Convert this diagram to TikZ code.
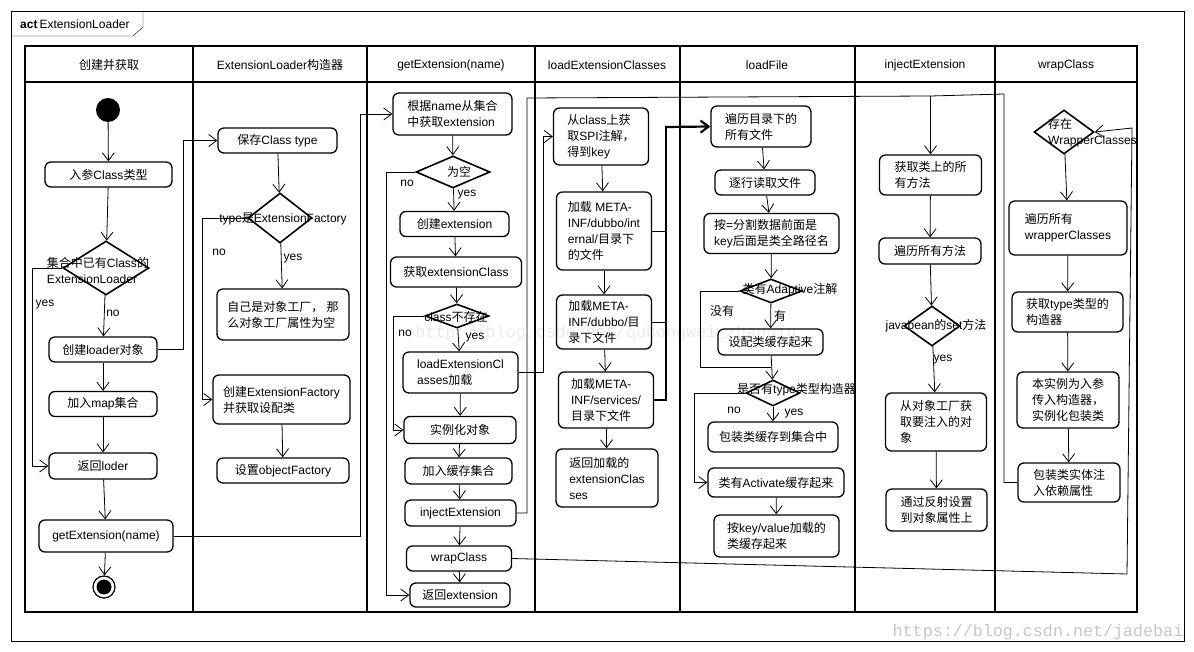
\documentclass[tikz,border=0pt]{standalone}
\usepackage{fontspec}
\setmainfont{Liberation Sans}
\newfontfamily\cjkfont{Noto Sans CJK SC}
\newfontfamily\wmfont{Liberation Mono}
\usetikzlibrary{shapes.geometric,arrows.meta}

% Chinese characters are set in the CJK font
\XeTeXinterchartokenstate=1
\newXeTeXintercharclass\cjkcls
\newcommand\setcjkrange[2]{%
  \count255=#1
  \loop
    \XeTeXcharclass\count255=\cjkcls
    \ifnum\count255<#2 \advance\count255 by 1
  \repeat}
\setcjkrange{"3000}{"303F}
\setcjkrange{"4E00}{"9FFF}
\setcjkrange{"FF00}{"FFEF}
\XeTeXinterchartoks 0 \cjkcls = {\begingroup\cjkfont}
\XeTeXinterchartoks 4095 \cjkcls = {\begingroup\cjkfont}
\XeTeXinterchartoks \cjkcls 0 = {\endgroup}
\XeTeXinterchartoks \cjkcls 4095 = {\endgroup}

\begin{document}
\begin{tikzpicture}[x=1pt,y=-1pt,
    font=\fontsize{12}{16}\selectfont,
    >={Straight Barb[length=8pt,width=12pt]},
    actbox/.style 2 args={draw, rounded corners=6pt, line width=1.3pt,
      minimum width=#1, minimum height=#2, inner sep=2pt, align=left},
    decision/.style 2 args={draw, diamond, line width=1.6pt,
      minimum width=#1, minimum height=#2, inner sep=0pt},
    dtext/.style={inner sep=0pt, align=left},
    flow/.style={->, line width=0.8pt},
    link/.style={line width=0.8pt},
    lane/.style={line width=2pt},
    lbl/.style={inner sep=1pt},
    wm/.style={font=\wmfont\fontsize{16.7}{18}\selectfont, inner sep=0pt}]
    \useasboundingbox (0,0) rectangle (1194,652);

    % watermark
    \node[wm, text=gray!16] (wmquhong) at (606,333) {http://blog.csdn.net/quhongwei\_zhanqiu};

    % frame
    \draw (11,11) rectangle (1184,641);
    \draw (11,36) -- (133,36) -- (143,27) -- (143,11);
    \node[anchor=west, inner sep=0pt] (acttitle) at (20,24) {\textbf{act}\,ExtensionLoader};

    % swimlanes
    \draw[lane] (25,46) rectangle (1137,612);
    \draw[lane] (25,82) -- (1137,82);
    \foreach \x in {193,367,535,680,855,995}
        \draw[lane] (\x,46) -- (\x,612);
    \node (h1) at (109,65) {创建并获取};
    \node (h2) at (280,65) {ExtensionLoader构造器};
    \node (h3) at (451,65) {getExtension(name)};
    \node (h4) at (607,65) {loadExtensionClasses};
    \node (h5) at (767,65) {loadFile};
    \node (h6) at (925,65) {injectExtension};
    \node (h7) at (1066,65) {wrapClass};

    % lane 1
    \node[circle, fill=black, minimum size=24pt, inner sep=0pt] (start) at (108,110) {};
    \node[actbox={127}{25}] (inparam) at (108.5,174.5) {入参Class类型};
    \node[decision={86}{54}] (hascls) at (106,268) {};
    \node[dtext] (hascltxt) at (98,270) {集合中已有Class的\\ExtensionLoader};
    \node[actbox={108}{25}] (newloader) at (103,349.5) {创建loader对象};
    \node[actbox={108}{25}] (addmap) at (103,404) {加入map集合};
    \node[actbox={108}{26}] (retloader) at (103,466) {返回loder};
    \node[actbox={134}{32}] (callget) at (106,536) {getExtension(name)};
    \node[circle, draw, line width=1.2pt, minimum size=22pt, inner sep=0pt] (stop) at (104,587) {};
    \fill (stop.center) circle (7.5);

    % lane 2
    \node[actbox={119}{25}] (savetype) at (277.5,140.5) {保存Class type};
    \node[decision={64}{50}] (isfactory) at (280,218) {};
    \node[dtext] (isfactxt) at (283,219) {type是ExtensionFactory};
    \node[actbox={132}{51}] (selffactory) at (283,314.5) {自己是对象工厂， 那\\么对象工厂属性为空};
    \node[actbox={137}{49}] (createfactory) at (281.5,399.5) {创建ExtensionFactory\\并获取设配类};
    \node[actbox={132}{25}] (setfactory) at (283,470.5) {设置objectFactory};

    % lane 3
    \node[actbox={119}{42}] (byname) at (452.5,114) {根据name从集合\\中获取extension};
    \node[decision={74}{32}] (isnull) at (453,172) {};
    \node[dtext] (isnulltxt) at (459,172) {为空};
    \node[actbox={109}{25}] (createext) at (454.5,224) {创建extension};
    \node[actbox={131}{30}] (getclass) at (456,272) {获取extensionClass};
    \node[decision={64}{24}] (noclass) at (457,316) {};
    \node[dtext] (noclasstxt) at (456,317) {class不存在};
    \node[actbox={115}{41}] (loadclasses) at (460.5,372.5) {loadExtensionCl\\asses加载};
    \node[actbox={112}{27}] (instance) at (460,430) {实例化对象};
    \node[actbox={107}{26}] (addcache) at (458.5,471) {加入缓存集合};
    \node[actbox={111}{26}] (inject) at (460.5,513) {injectExtension};
    \node[actbox={105}{25}] (wrap) at (459,558.5) {wrapClass};
    \node[actbox={100}{24}] (retext) at (460,595) {返回extension};

    % lane 4
    \node[actbox={95}{57}] (spi) at (601,136.5) {从class上获\\取SPI注解，\\得到key};
    \node[actbox={95}{78}] (internal) at (604,231) {加载 META-\\INF/dubbo/int\\ernal/目录下\\的文件};
    \node[actbox={95}{54}] (dubbo) at (604,322) {加载META-\\INF/dubbo/目\\录下文件};
    \node[actbox={95}{56}] (services) at (606,400) {加载META-\\INF/services/\\目录下文件};
    \node[actbox={102}{58}] (retclasses) at (607,478) {返回加载的\\extensionClas\\ses};

    % lane 5
    \node[actbox={100}{41}] (eachfile) at (761,126.5) {遍历目录下的\\所有文件};
    \node[actbox={100}{25}] (readline) at (765,182.5) {逐行读取文件};
    \node[actbox={135}{40}] (splitkey) at (771.5,233.5) {按=分割数据前面是\\key后面是类全路径名};
    \node[decision={62}{24}] (adaptive) at (771,291) {};
    \node[dtext] (adaptivetxt) at (790,290) {类有Adaptive注解};
    \node[actbox={105}{26}] (cacheadaptive) at (770.5,342) {设配类缓存起来};
    \node[decision={54}{26}] (hasctor) at (773,393) {};
    \node[dtext] (hasctortxt) at (796.5,390) {是否有type类型构造器};
    \node[actbox={130}{30}] (cachewrapper) at (773,437) {包装类缓存到集合中};
    \node[actbox={136}{29}] (activate) at (776,482.5) {类有Activate缓存起来};
    \node[actbox={125}{42}] (cachekv) at (776.5,536) {按key/value加载的\\类缓存起来};

    % lane 6
    \node[actbox={102}{40}] (allmethods) at (930.5,175) {获取类上的所\\有方法};
    \node[actbox={102}{26}] (eachmethod) at (930,251) {遍历所有方法};
    \node[decision={56}{40}] (setter) at (932,326) {};
    \node[dtext] (settertxt) at (936,326) {javabean的set方法};
    \node[actbox={101}{58}] (getobj) at (936,422) {从对象工厂获\\取要注入的对\\象};
    \node[actbox={101}{42}] (reflect) at (936.5,510) {通过反射设置\\到对象属性上};

    % lane 7
    \node[decision={60}{44}] (haswrapper) at (1064,132) {};
    \node[dtext, anchor=west] (haswrappertxt) at (1048,133) {存在\\WrapperClasses};
    \node[actbox={118}{54}] (eachwrapper) at (1068,228) {遍历所有\\wrapperClasses};
    \node[actbox={111}{40}] (getctor) at (1067.5,312) {获取type类型的\\构造器};
    \node[actbox={102}{56}] (newwrapper) at (1068,400) {本实例为入参\\传入构造器，\\实例化包装类};
    \node[actbox={102}{39}] (injectwrapper) at (1069,482.5) {包装类实体注\\入依赖属性};

    % guard labels
    \node[lbl] (yes1) at (45,305) {yes};
    \node[lbl] (no1) at (113,313) {no};
    \node[lbl] (no2) at (219,252) {no};
    \node[lbl] (yes2) at (293,259) {yes};
    \node[lbl] (no3) at (407,183) {no};
    \node[lbl] (yes3) at (467,195) {yes};
    \node[lbl] (no4) at (405,333) {no};
    \node[lbl] (yes4) at (475,338) {yes};
    \node[lbl] (meiyou) at (722,311) {没有};
    \node[lbl] (you) at (780,316) {有};
    \node[lbl] (no5) at (734,410) {no};
    \node[lbl] (yes5) at (794,414) {yes};
    \node[lbl] (yes6) at (943,360) {yes};

    % flows lane 1
    \draw[flow] (start) -- (inparam);
    \draw[flow] (inparam) -- (hascls);
    \draw[flow] (hascls) -- (newloader);
    \draw[flow] (hascls.west) -- (32,268) |- (retloader.west);
    \draw[flow] (newloader) -- (addmap);
    \draw[flow] (addmap) -- (retloader);
    \draw[flow] (retloader) -- (callget);
    \draw[flow] (callget) -- (stop);
    \draw[flow] (newloader.east) -- (183,349.5) |- (savetype.west);
    \draw[flow] (callget.east) -- (360,536) |- (byname.west);

    % flows lane 2
    \draw[flow] (savetype) -- (isfactory);
    \draw[flow] (isfactory) -- (selffactory);
    \draw[flow] (isfactory.west) -- (202,218) |- (createfactory.west);
    \draw[flow] (createfactory) -- (setfactory);

    % flows lane 3
    \draw[flow] (byname) -- (isnull);
    \draw[flow] (isnull) -- (createext);
    \draw[flow] (isnull.west) -- (386,172) |- (retext.west);
    \draw[flow] (createext) -- (getclass);
    \draw[flow] (getclass) -- (noclass);
    \draw[flow] (noclass) -- (loadclasses);
    \draw[flow] (noclass.west) -- (393,316) |- (instance.west);
    \draw[flow] (loadclasses) -- (instance);
    \draw[flow] (instance) -- (addcache);
    \draw[flow] (addcache) -- (inject);
    \draw[flow] (inject) -- (wrap);
    \draw[flow] (wrap) -- (retext);
    \draw[flow] (loadclasses.east) -- (543,372.5) |- (spi.west);
    \draw[flow] (inject.east) -- (527,513) -- (527,98) -- (930.5,96) -- (allmethods.north);
    \draw[flow] (wrap.east) -- (1127,574) -- (1132,128) -- (haswrapper.east);

    % flows lane 4
    \draw[flow] (spi) -- (internal);
    \draw[flow] (internal) -- (dubbo);
    \draw[flow] (dubbo) -- (services);
    \draw[flow] (services) -- (retclasses);
    \draw[link] (internal.east) -- (666,231);
    \draw[link] (dubbo.east) -- (666,322);
    \draw[link, line width=1.2pt] (services.east) -- (666,400) -- (666,127);
    \draw[flow, line width=2.2pt] (665,127) -- (eachfile.west);

    % flows lane 5
    \draw[flow] (eachfile) -- (readline);
    \draw[flow] (readline) -- (splitkey);
    \draw[flow] (splitkey) -- (adaptive);
    \draw[flow] (adaptive) -- (cacheadaptive);
    \draw[link] (adaptive.west) -- (700,291) -- (700,367) -- (771,367);
    \draw[flow] (cacheadaptive) -- (hasctor);
    \draw[flow] (hasctor) -- (cachewrapper);
    \draw[flow] (hasctor.west) -- (694,393) |- (activate.west);
    \draw[flow] (activate) -- (cachekv);

    % flows lane 6
    \draw[flow] (allmethods) -- (eachmethod);
    \draw[flow] (eachmethod) -- (setter);
    \draw[flow] (setter) -- (getobj);
    \draw[flow] (getobj) -- (reflect);

    % flows lane 7
    \draw[flow] (haswrapper) -- (eachwrapper);
    \draw[flow] (eachwrapper) -- (getctor);
    \draw[flow] (getctor) -- (newwrapper);
    \draw[flow] (newwrapper) -- (injectwrapper);
    \draw[link] (injectwrapper.west) -- (1004,482.5) -- (1004,94) -- (930.5,96);

    % watermark
    \node[wm, text=gray!45] (wmjade) at (1038,632) {https://blog.csdn.net/jadebai};
\end{tikzpicture}
\end{document}
